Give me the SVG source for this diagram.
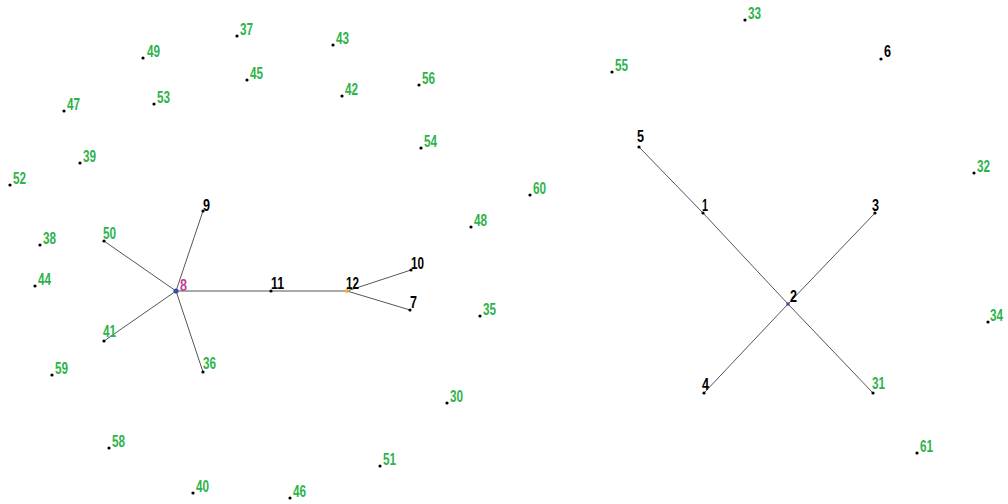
<svg xmlns="http://www.w3.org/2000/svg" width="1008" height="504" viewBox="0 0 1008 504">
<style>
.e{stroke:#555;stroke-width:1;fill:none}
.d{fill:#000}
text{font-family:"Liberation Sans",Arial,sans-serif;font-weight:bold;font-size:16px}
.g{fill:#2db34a}
.k{fill:#000}
</style>
<rect width="1008" height="504" fill="#fff"/>
<g id="connectors">
<line class="e" x1="176" y1="291" x2="203" y2="211"/>
<line class="e" x1="176" y1="291" x2="104" y2="241"/>
<line class="e" x1="176" y1="291" x2="104" y2="341"/>
<line class="e" x1="176" y1="291" x2="203" y2="372"/>
<line class="e" x1="176" y1="291" x2="271" y2="291"/>
<line class="e" x1="271" y1="291" x2="347" y2="291"/>
<line class="e" x1="347" y1="291" x2="411" y2="270"/>
<line class="e" x1="347" y1="291" x2="410" y2="310"/>
<line class="e" x1="639" y1="147" x2="703" y2="213"/>
<line class="e" x1="703" y1="213" x2="788" y2="304"/>
<line class="e" x1="788" y1="304" x2="873" y2="393"/>
<line class="e" x1="875" y1="213" x2="788" y2="304"/>
<line class="e" x1="788" y1="304" x2="704" y2="393"/>
</g>
<g id="n37"><circle class="d" cx="237" cy="36" r="1.6"/><text class="g" x="240" y="35" textLength="13" lengthAdjust="spacingAndGlyphs">37</text></g>
<g id="n49"><circle class="d" cx="143" cy="58" r="1.6"/><text class="g" x="147" y="57" textLength="13" lengthAdjust="spacingAndGlyphs">49</text></g>
<g id="n43"><circle class="d" cx="333" cy="45" r="1.6"/><text class="g" x="336" y="44" textLength="13" lengthAdjust="spacingAndGlyphs">43</text></g>
<g id="n45"><circle class="d" cx="247" cy="80" r="1.6"/><text class="g" x="250" y="79" textLength="13" lengthAdjust="spacingAndGlyphs">45</text></g>
<g id="n42"><circle class="d" cx="342" cy="96" r="1.6"/><text class="g" x="345" y="95" textLength="13" lengthAdjust="spacingAndGlyphs">42</text></g>
<g id="n56"><circle class="d" cx="419" cy="85" r="1.6"/><text class="g" x="422" y="84" textLength="13" lengthAdjust="spacingAndGlyphs">56</text></g>
<g id="n47"><circle class="d" cx="64" cy="111" r="1.6"/><text class="g" x="67" y="110" textLength="13" lengthAdjust="spacingAndGlyphs">47</text></g>
<g id="n53"><circle class="d" cx="154" cy="104" r="1.6"/><text class="g" x="157" y="103" textLength="13" lengthAdjust="spacingAndGlyphs">53</text></g>
<g id="n54"><circle class="d" cx="421" cy="148" r="1.6"/><text class="g" x="424" y="147" textLength="13" lengthAdjust="spacingAndGlyphs">54</text></g>
<g id="n39"><circle class="d" cx="80" cy="163" r="1.6"/><text class="g" x="83" y="162" textLength="13" lengthAdjust="spacingAndGlyphs">39</text></g>
<g id="n52"><circle class="d" cx="10" cy="185" r="1.6"/><text class="g" x="13" y="184" textLength="13" lengthAdjust="spacingAndGlyphs">52</text></g>
<g id="n60"><circle class="d" cx="530" cy="195" r="1.6"/><text class="g" x="533" y="194" textLength="13" lengthAdjust="spacingAndGlyphs">60</text></g>
<g id="n9"><circle class="d" cx="203" cy="211" r="1.6"/><text class="k" x="203" y="211" textLength="7" lengthAdjust="spacingAndGlyphs">9</text></g>
<g id="n50"><circle class="d" cx="104" cy="241" r="1.6"/><text class="g" x="103" y="239" textLength="13" lengthAdjust="spacingAndGlyphs">50</text></g>
<g id="n48"><circle class="d" cx="471" cy="227" r="1.6"/><text class="g" x="474" y="226" textLength="13" lengthAdjust="spacingAndGlyphs">48</text></g>
<g id="n38"><circle class="d" cx="40" cy="245" r="1.6"/><text class="g" x="43" y="244" textLength="13" lengthAdjust="spacingAndGlyphs">38</text></g>
<g id="n44"><circle class="d" cx="35" cy="286" r="1.6"/><text class="g" x="38" y="285" textLength="13" lengthAdjust="spacingAndGlyphs">44</text></g>
<g id="n8"><circle cx="176" cy="291" r="2.6" fill="#3a4fa8"/><text x="180" y="291" fill="#c0409a" font-weight="normal" textLength="7" lengthAdjust="spacingAndGlyphs">8</text></g>
<g id="n11"><circle class="d" cx="271" cy="291" r="1.6"/><text class="k" x="271" y="289" textLength="13" lengthAdjust="spacingAndGlyphs">11</text></g>
<g id="n12"><circle cx="347" cy="291" r="2" fill="#f2b21c"/><text class="k" x="346" y="289" textLength="13" lengthAdjust="spacingAndGlyphs">12</text></g>
<g id="n10"><circle class="d" cx="411" cy="270" r="1.6"/><text class="k" x="411" y="269" textLength="13" lengthAdjust="spacingAndGlyphs">10</text></g>
<g id="n7"><circle class="d" cx="410" cy="310" r="1.6"/><text class="k" x="410" y="308" textLength="7" lengthAdjust="spacingAndGlyphs">7</text></g>
<g id="n35"><circle class="d" cx="480" cy="316" r="1.6"/><text class="g" x="483" y="315" textLength="13" lengthAdjust="spacingAndGlyphs">35</text></g>
<g id="n41"><circle class="d" cx="104" cy="341" r="1.6"/><text class="g" x="103" y="337" textLength="13" lengthAdjust="spacingAndGlyphs">41</text></g>
<g id="n36"><circle class="d" cx="203" cy="372" r="1.6"/><text class="g" x="203" y="369" textLength="13" lengthAdjust="spacingAndGlyphs">36</text></g>
<g id="n59"><circle class="d" cx="52" cy="375" r="1.6"/><text class="g" x="55" y="374" textLength="13" lengthAdjust="spacingAndGlyphs">59</text></g>
<g id="n30"><circle class="d" cx="447" cy="403" r="1.6"/><text class="g" x="450" y="402" textLength="13" lengthAdjust="spacingAndGlyphs">30</text></g>
<g id="n58"><circle class="d" cx="109" cy="448" r="1.6"/><text class="g" x="112" y="447" textLength="13" lengthAdjust="spacingAndGlyphs">58</text></g>
<g id="n51"><circle class="d" cx="380" cy="466" r="1.6"/><text class="g" x="383" y="465" textLength="13" lengthAdjust="spacingAndGlyphs">51</text></g>
<g id="n40"><circle class="d" cx="193" cy="493" r="1.6"/><text class="g" x="196" y="492" textLength="13" lengthAdjust="spacingAndGlyphs">40</text></g>
<g id="n46"><circle class="d" cx="290" cy="498" r="1.6"/><text class="g" x="293" y="497" textLength="13" lengthAdjust="spacingAndGlyphs">46</text></g>
<g id="n33"><circle class="d" cx="745" cy="20" r="1.6"/><text class="g" x="748" y="19" textLength="13" lengthAdjust="spacingAndGlyphs">33</text></g>
<g id="n55"><circle class="d" cx="612" cy="72" r="1.6"/><text class="g" x="615" y="71" textLength="13" lengthAdjust="spacingAndGlyphs">55</text></g>
<g id="n6"><circle class="d" cx="881" cy="59" r="1.6"/><text class="k" x="884" y="57" textLength="7" lengthAdjust="spacingAndGlyphs">6</text></g>
<g id="n5"><circle class="d" cx="639" cy="147" r="1.6"/><text class="k" x="637" y="142" textLength="7" lengthAdjust="spacingAndGlyphs">5</text></g>
<g id="n1"><circle class="d" cx="703" cy="213" r="1.6"/><text class="k" x="702" y="211" textLength="6" lengthAdjust="spacingAndGlyphs">1</text></g>
<g id="n3"><circle class="d" cx="875" cy="213" r="1.6"/><text class="k" x="872" y="211" textLength="7" lengthAdjust="spacingAndGlyphs">3</text></g>
<g id="n32"><circle class="d" cx="974" cy="173" r="1.6"/><text class="g" x="977" y="172" textLength="13" lengthAdjust="spacingAndGlyphs">32</text></g>
<g id="n2"><circle cx="788" cy="304" r="1.8" fill="#3a4fa8"/><text class="k" x="790" y="302" textLength="7" lengthAdjust="spacingAndGlyphs">2</text></g>
<g id="n34"><circle class="d" cx="988" cy="322" r="1.6"/><text class="g" x="990" y="321" textLength="13" lengthAdjust="spacingAndGlyphs">34</text></g>
<g id="n4"><circle class="d" cx="704" cy="393" r="1.6"/><text class="k" x="702" y="390" textLength="7" lengthAdjust="spacingAndGlyphs">4</text></g>
<g id="n31"><circle class="d" cx="873" cy="393" r="1.6"/><text class="g" x="872" y="389" textLength="13" lengthAdjust="spacingAndGlyphs">31</text></g>
<g id="n61"><circle class="d" cx="917" cy="453" r="1.6"/><text class="g" x="920" y="452" textLength="13" lengthAdjust="spacingAndGlyphs">61</text></g>
</svg>
